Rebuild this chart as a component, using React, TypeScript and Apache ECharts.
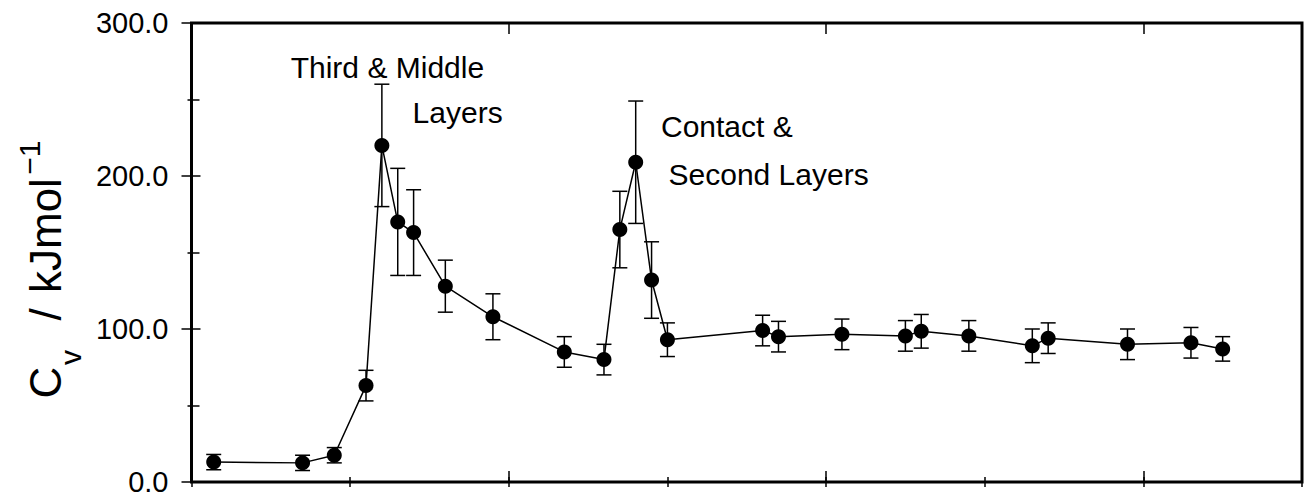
import React, { useEffect, useRef } from "react";
import * as echarts from "echarts";

// Position values (no axis labels in the original, 0.5 unit between ticks)
const xValues = [
  0.07, 0.35, 0.45, 0.55, 0.6, 0.65, 0.7, 0.8, 0.95, 1.175, 1.3, 1.35, 1.4,
  1.45, 1.5, 1.8, 1.85, 2.05, 2.25, 2.3, 2.45, 2.65, 2.7, 2.95, 3.15, 3.25,
];
// Heat capacity Cv / kJ mol^-1
const cvValues = [
  13, 12.5, 17.5, 63, 220, 170, 163, 128, 108, 85, 80, 165, 209, 132, 93, 99,
  95, 96.5, 95.5, 98.5, 95.5, 89, 94, 90, 91, 87,
];
// Half-widths of the error bars
const cvErrors = [
  5, 5, 5, 10, 40, 35, 28, 17, 15, 10, 10, 25, 40, 25, 11, 10, 10, 10, 10, 11,
  10, 11, 10, 10, 10, 8,
];
const yTickValues = [0, 100, 200, 300];
const annotationLines = ["Third & Middle", "Layers", "Contact &", "Second Layers"];

const FONT = "'Liberation Sans', Arial, Helvetica, sans-serif";

export default function App() {
  const ref = useRef<HTMLDivElement>(null);

  useEffect(() => {
    document.body.style.margin = "0";
    const chart = echarts.init(ref.current!, null, { renderer: "svg" });

    const grid = { left: 191.5, right: 8, top: 23, bottom: 17 };
    const tickStyle = { color: "#000", width: 1.5 };

    const lineData = xValues.map((x, i) => [x, cvValues[i]]);
    const errData = xValues.map((x, i) => [
      x,
      cvValues[i] - cvErrors[i],
      cvValues[i] + cvErrors[i],
    ]);

    const xAxisBase = (gridIndex: number, position: string, interval: number, length: number) => ({
      type: "value",
      gridIndex,
      position,
      min: 0,
      max: 3.5,
      interval,
      axisLine: { show: false },
      axisTick: { show: true, inside: true, length, lineStyle: tickStyle },
      axisLabel: { show: false },
      splitLine: { show: false },
    });

    const option: any = {
      animation: false,
      textStyle: { fontFamily: FONT },
      grid: [
        { ...grid, show: true, borderColor: "#000", borderWidth: 3, backgroundColor: "transparent" },
        { ...grid, show: false },
      ],
      xAxis: [
        xAxisBase(0, "bottom", 0.5, 5),
        xAxisBase(0, "top", 0.5, 5),
        xAxisBase(1, "bottom", 1, 11),
        xAxisBase(1, "top", 1, 11),
      ],
      yAxis: [
        {
          type: "value",
          gridIndex: 0,
          position: "left",
          min: 0,
          max: 300,
          interval: 100,
          axisLine: { show: false },
          axisTick: { show: true, inside: true, length: 9, lineStyle: tickStyle },
          minorTick: { show: true, splitNumber: 2, length: 8, lineStyle: tickStyle },
          axisLabel: {
            show: true,
            margin: 23,
            fontSize: 29,
            color: "#000",
            fontFamily: FONT,
            customValues: yTickValues,
            formatter: (v: number) => v.toFixed(1),
          },
          splitLine: { show: false },
          minorSplitLine: { show: false },
        },
        {
          type: "value",
          gridIndex: 0,
          position: "right",
          min: 0,
          max: 300,
          interval: 100,
          axisLine: { show: false },
          axisTick: { show: true, inside: true, length: 10, lineStyle: tickStyle },
          minorTick: { show: true, splitNumber: 2, length: 4, lineStyle: tickStyle },
          axisLabel: { show: false },
          splitLine: { show: false },
        },
        {
          type: "value",
          gridIndex: 1,
          min: 0,
          max: 300,
          show: false,
        },
      ],
      series: [
        {
          type: "custom",
          xAxisIndex: 0,
          yAxisIndex: 0,
          z: 2,
          data: errData,
          encode: { x: 0, y: [1, 2] },
          renderItem: (params: any, api: any) => {
            const x = api.value(0);
            const lo = api.coord([x, api.value(1)]);
            const hi = api.coord([x, api.value(2)]);
            const hw = 7.5;
            const st = { stroke: "#000", lineWidth: 1.5 };
            return {
              type: "group",
              children: [
                { type: "line", shape: { x1: lo[0], y1: lo[1], x2: hi[0], y2: hi[1] }, style: st },
                { type: "line", shape: { x1: lo[0] - hw, y1: lo[1], x2: lo[0] + hw, y2: lo[1] }, style: st },
                { type: "line", shape: { x1: hi[0] - hw, y1: hi[1], x2: hi[0] + hw, y2: hi[1] }, style: st },
              ],
            };
          },
        },
        {
          type: "line",
          xAxisIndex: 0,
          yAxisIndex: 0,
          z: 3,
          data: lineData,
          symbol: "circle",
          symbolSize: 15,
          showSymbol: true,
          itemStyle: { color: "#000" },
          lineStyle: { color: "#000", width: 1.5 },
        },
      ],
      graphic: [
        {
          type: "text",
          x: 290.7,
          y: 67.9,
          style: { text: annotationLines[0], fontSize: 30, fontFamily: FONT, fill: "#000", align: "left", verticalAlign: "middle" },
        },
        {
          type: "text",
          x: 412.6,
          y: 112.9,
          style: { text: annotationLines[1], fontSize: 30, fontFamily: FONT, fill: "#000", align: "left", verticalAlign: "middle" },
        },
        {
          type: "text",
          x: 661,
          y: 126.3,
          style: { text: annotationLines[2], fontSize: 30, fontFamily: FONT, fill: "#000", align: "left", verticalAlign: "middle" },
        },
        {
          type: "text",
          x: 668.5,
          y: 174.6,
          style: { text: annotationLines[3], fontSize: 30, fontFamily: FONT, fill: "#000", align: "left", verticalAlign: "middle" },
        },
        {
          type: "group",
          x: 45.8,
          y: 398.5,
          rotation: Math.PI / 2,
          children: [
            { type: "text", x: 0, y: 0, style: { text: "C", fontSize: 44, fontFamily: FONT, fill: "#000", align: "left", verticalAlign: "middle" } },
            { type: "text", x: 33.5, y: 25, style: { text: "v", fontSize: 30, fontFamily: FONT, fill: "#000", align: "left", verticalAlign: "middle" } },
            { type: "text", x: 78, y: 0, style: { text: "/", fontSize: 44, fontFamily: FONT, fill: "#000", align: "left", verticalAlign: "middle" } },
            { type: "text", x: 105.5, y: 0, style: { text: "kJmol", fontSize: 44, fontFamily: FONT, fill: "#000", align: "left", verticalAlign: "middle" } },
            { type: "text", x: 223.7, y: -16.2, style: { text: "\u22121", fontSize: 30, fontFamily: FONT, fill: "#000", align: "left", verticalAlign: "middle" } },
          ],
        },
      ],
    };

    chart.setOption(option);
    return () => chart.dispose();
  }, []);

  return <div ref={ref} style={{ width: 1310, height: 499 }} />;
}
